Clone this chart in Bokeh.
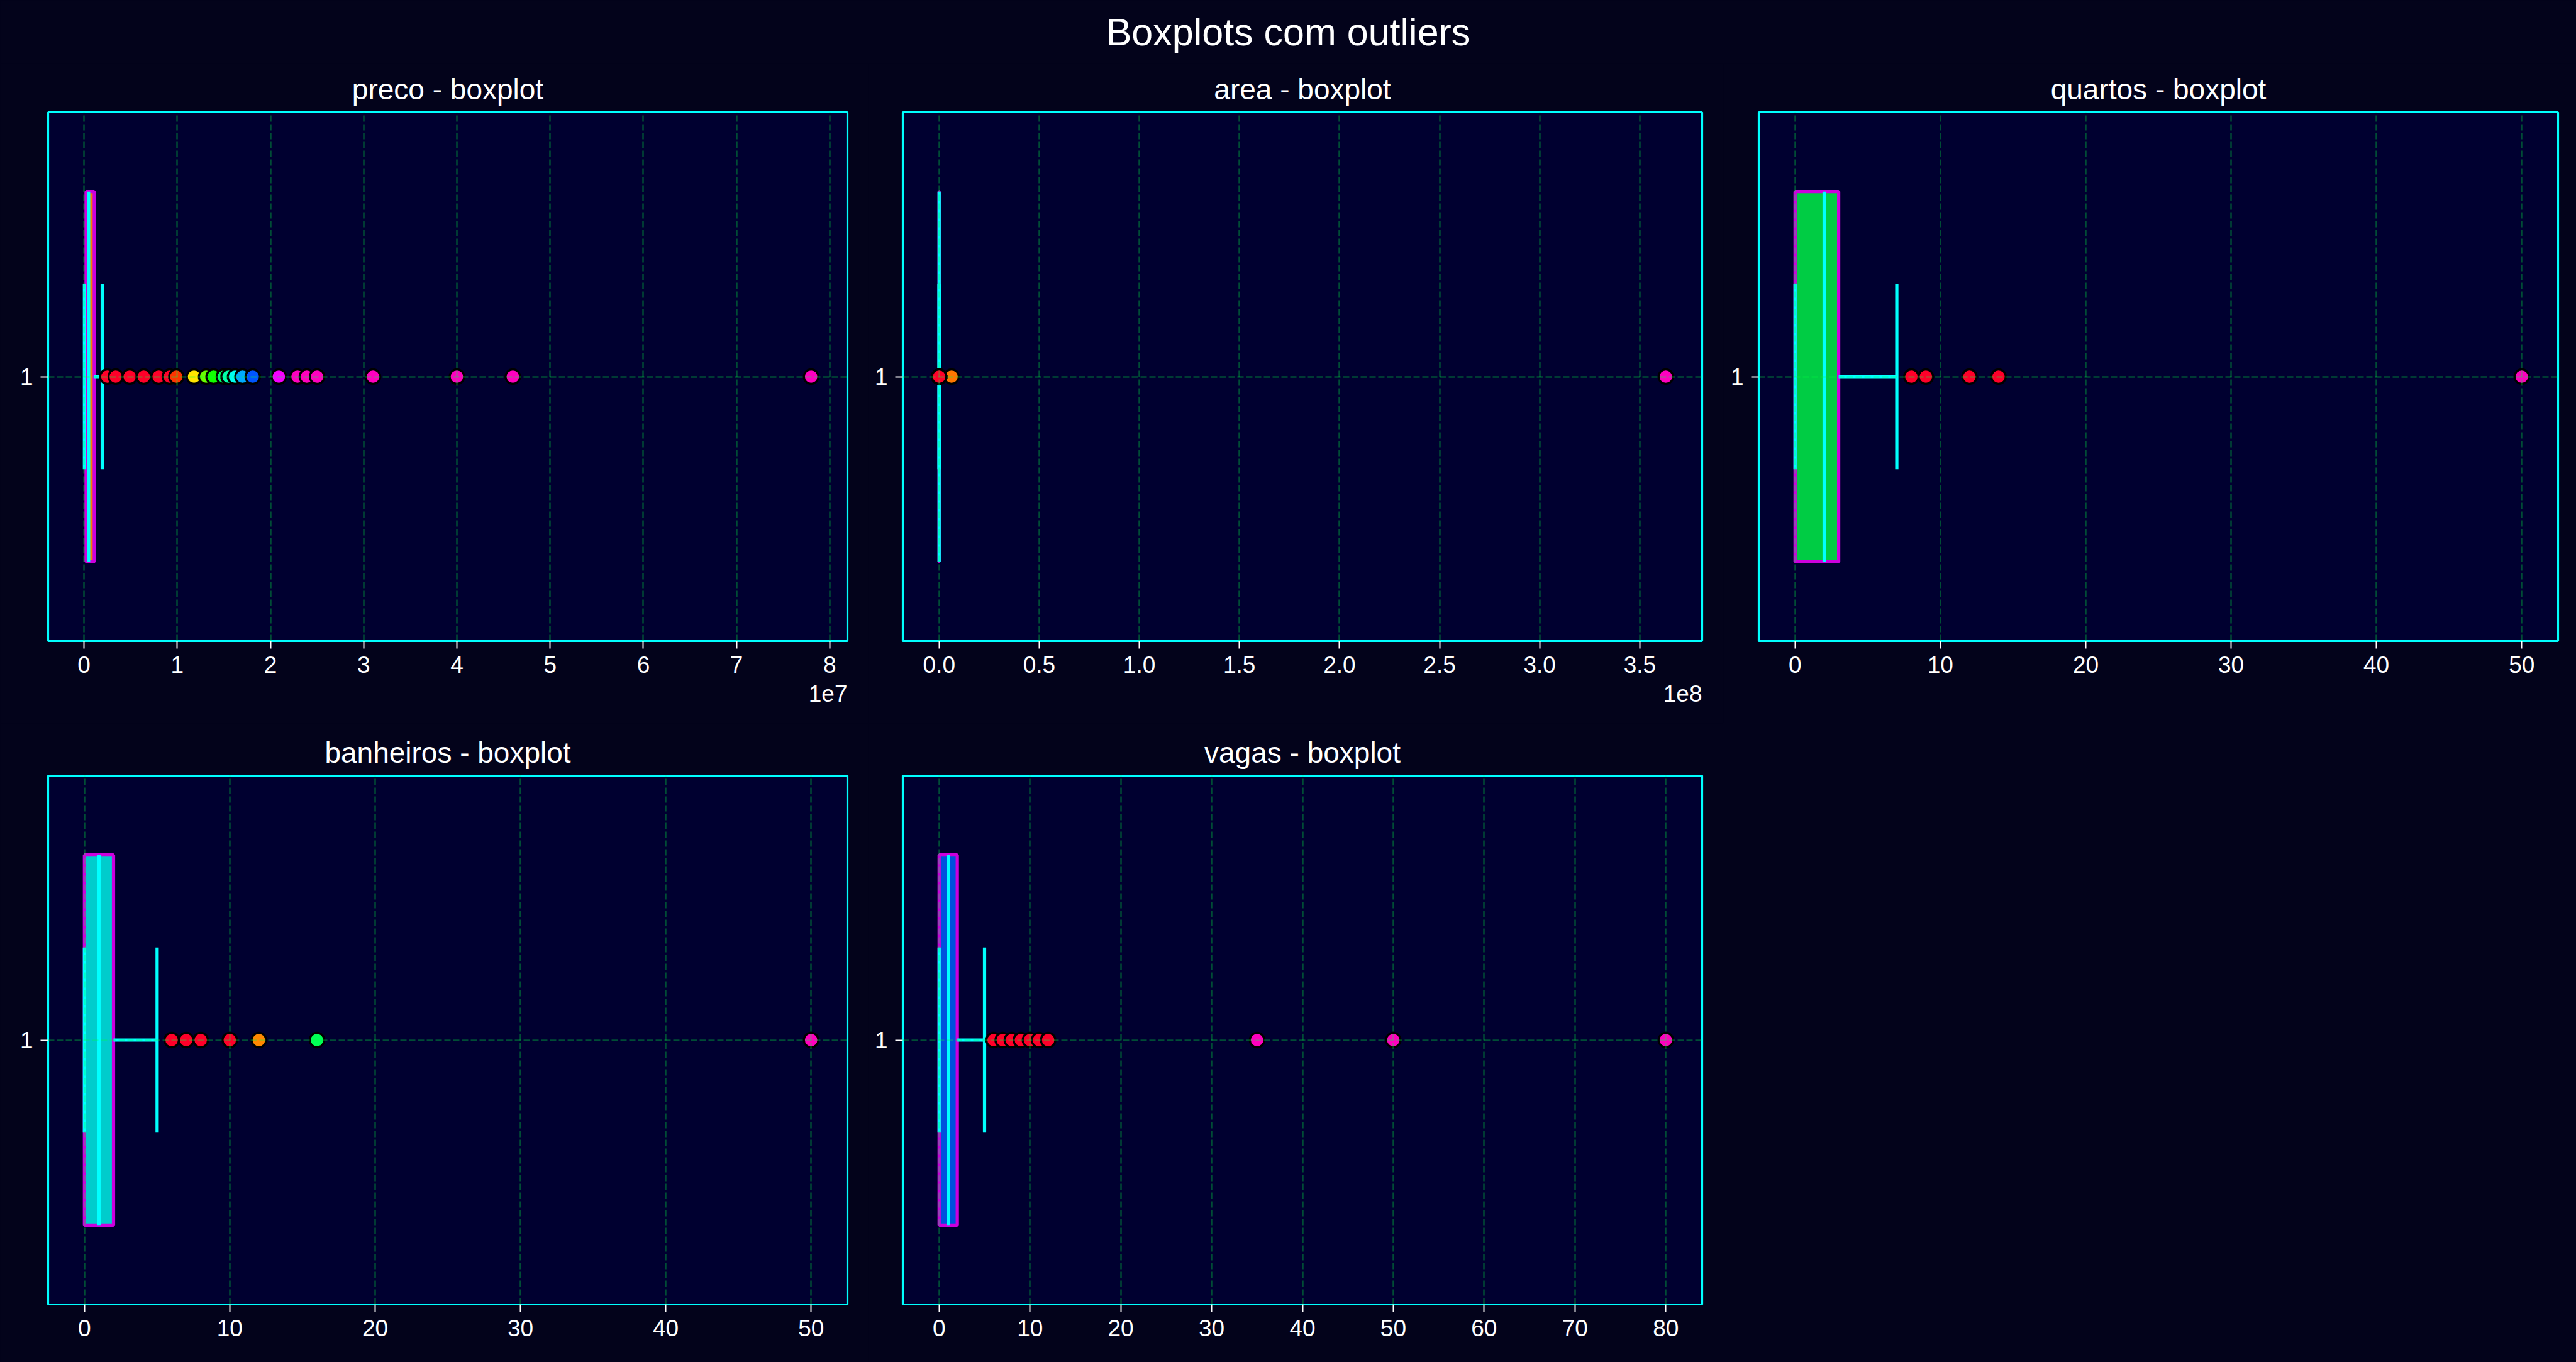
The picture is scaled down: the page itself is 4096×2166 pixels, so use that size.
from bokeh.plotting import figure
from bokeh.models import Range1d, FixedTicker, Title, Spacer
from bokeh.layouts import column, row
from bokeh.embed import file_html
from bokeh.resources import INLINE

# ---------------- data ----------------
names = ["preco", "area", "quartos", "banheiros", "vagas"]
q1 = [2.2e5, 60, 0, 0, 0]
medians = [4.9e5, 90, 2, 1, 1]
q3 = [1.1e6, 160, 3, 2, 2]
whisker_low = [4.5e4, 10, 0, 0, 0]
whisker_high = [1.95e6, 320, 7, 5, 5]
box_colors = ["#FF7A00", "#FFE500", "#00CC44", "#00CCCC", "#0050DD"]

preco_outliers = [2.5e6, 3.4e6, 4.9e6, 6.4e6, 8.0e6, 9.2e6, 9.9e6, 1.18e7, 1.31e7,
                  1.39e7, 1.50e7, 1.55e7, 1.62e7, 1.70e7, 1.81e7, 2.09e7, 2.29e7,
                  2.39e7, 2.50e7, 3.10e7, 4.00e7, 4.60e7, 7.80e7]
preco_colors = ["#FF0029"] * 6 + ["#FF3300", "#FFE500", "#66FF00", "#11FF00", "#00FF66",
                                  "#00FFAA", "#00FFEE", "#00AAFF", "#0055FF", "#F500FF"] + ["#FF00BF"] * 7
area_outliers = [6.2e6, 450, 800, 1500, 4000, 20000, 3.63e8]
area_colors = ["#FF7700", "#FF0029", "#FF0029", "#FF0029", "#FF0029", "#FF0029", "#FF00BF"]
quartos_outliers = [8, 9, 12, 14, 50]
quartos_colors = ["#FF0029"] * 4 + ["#FF00BF"]
banheiros_outliers = [6, 7, 8, 10, 12, 16, 50]
banheiros_colors = ["#FF0029"] * 4 + ["#FF8800", "#00FF55", "#FF00BF"]
vagas_outliers = [6, 7, 8, 9, 10, 11, 12, 35, 50, 80]
vagas_colors = ["#FF0029"] * 7 + ["#FF00BF"] * 3
outliers = [preco_outliers, area_outliers, quartos_outliers, banheiros_outliers, vagas_outliers]
outlier_colors = [preco_colors, area_colors, quartos_colors, banheiros_colors, vagas_colors]

preco_ticks = [0, 1e7, 2e7, 3e7, 4e7, 5e7, 6e7, 7e7, 8e7]
preco_tick_labels = ["0", "1", "2", "3", "4", "5", "6", "7", "8"]
area_ticks = [0, 0.5e8, 1e8, 1.5e8, 2e8, 2.5e8, 3e8, 3.5e8]
area_tick_labels = ["0.0", "0.5", "1.0", "1.5", "2.0", "2.5", "3.0", "3.5"]
quartos_ticks = [0, 10, 20, 30, 40, 50]
banheiros_ticks = [0, 10, 20, 30, 40, 50]
vagas_ticks = [0, 10, 20, 30, 40, 50, 60, 70, 80]
ticks = [preco_ticks, area_ticks, quartos_ticks, banheiros_ticks, vagas_ticks]
tick_labels = [preco_tick_labels, area_tick_labels,
               [str(t) for t in quartos_ticks], [str(t) for t in banheiros_ticks],
               [str(t) for t in vagas_ticks]]
offset_texts = ["1e7", "1e8", "", "", ""]
category_label = "1"

# ---------------- style ----------------
FIG_BG = "#03031b"
PLOT_BG = "#000030"
CYAN = "#00FFFF"
MAGENTA = "#CC00DD"
FONT = "Liberation Sans"
LW = 5.2
TICK_FS = "37px"
BG_STYLE = {"background-color": FIG_BG}


def make_panel(i, width, height, bl, br, bt, bb):
    lo = min(whisker_low[i], min(outliers[i]))
    hi = max(max(outliers[i]), whisker_high[i])
    pad = 0.05 * (hi - lo)
    p = figure(width=width, height=height, output_backend="svg", toolbar_location=None,
               x_range=Range1d(lo - pad, hi + pad), y_range=Range1d(0.5, 1.5),
               min_border_left=bl, min_border_right=br, min_border_top=bt,
               min_border_bottom=bb, title=f"{names[i]} - boxplot", styles=BG_STYLE)
    p.background_fill_color = PLOT_BG
    p.border_fill_color = FIG_BG
    p.outline_line_color = CYAN
    p.outline_line_width = 3.2
    p.title.align = "center"
    p.title.text_color = "white"
    p.title.text_font = FONT
    p.title.text_font_size = "46px"
    p.title.text_font_style = "normal"
    p.title.standoff = 22

    p.xaxis.ticker = FixedTicker(ticks=ticks[i])
    p.xaxis.major_label_overrides = {t: l for t, l in zip(ticks[i], tick_labels[i])}
    p.yaxis.ticker = FixedTicker(ticks=[1])
    p.yaxis.major_label_overrides = {1: category_label}
    for ax in (p.xaxis[0], p.yaxis[0]):
        ax.axis_line_color = None
        ax.major_tick_line_color = "white"
        ax.major_tick_line_width = 2
        ax.major_tick_in = 0
        ax.major_tick_out = 12
        ax.minor_tick_line_color = None
        ax.major_label_text_color = "white"
        ax.major_label_text_font = FONT
        ax.major_label_text_font_size = TICK_FS
        ax.major_label_standoff = 12

    p.grid.grid_line_color = "#00ff41"
    p.grid.grid_line_alpha = 0.3
    p.grid.grid_line_dash = "10 4"
    p.grid.grid_line_width = 2.5
    p.grid.level = "annotation"

    # box
    p.quad(left=[q1[i]], right=[q3[i]], bottom=[1 - 0.35], top=[1 + 0.35],
           fill_color=box_colors[i], line_color=MAGENTA, line_width=LW)
    # whiskers
    p.segment(x0=[q3[i], q1[i]], y0=[1, 1], x1=[whisker_high[i], whisker_low[i]], y1=[1, 1],
              line_color=CYAN, line_width=LW)
    # caps
    p.segment(x0=[whisker_low[i], whisker_high[i]], y0=[1 - 0.175, 1 - 0.175],
              x1=[whisker_low[i], whisker_high[i]], y1=[1 + 0.175, 1 + 0.175],
              line_color=CYAN, line_width=LW)
    # median
    p.segment(x0=[medians[i]], y0=[1 - 0.35], x1=[medians[i]], y1=[1 + 0.35],
              line_color=CYAN, line_width=LW)
    # outliers
    p.scatter(x=outliers[i], y=[1] * len(outliers[i]), size=23,
              fill_color=outlier_colors[i], line_color="black", line_width=3.3)

    if offset_texts[i]:
        off = Title(text=offset_texts[i], align="right", text_color="white",
                    text_font=FONT, text_font_size=TICK_FS, text_font_style="normal",
                    standoff=30, offset=0)
        p.add_layout(off, "below")
    return p


top = figure(width=4096, height=100, output_backend="svg", toolbar_location=None,
             x_range=(0, 1), y_range=(0, 1), min_border=0, styles=BG_STYLE)
top.axis.visible = False
top.grid.visible = False
top.outline_line_color = None
top.background_fill_color = FIG_BG
top.border_fill_color = FIG_BG
top.text(x=[0.5], y=[0.5], text=["Boxplots com outliers"], text_align="center",
         text_baseline="middle", text_color="white", text_font_size="61px",
         text_font={"value": FONT})

widths = [1380, 1360, 1356]
lefts = [76, 55, 56]
rights = [33, 34, 29]

p1 = make_panel(0, widths[0], 1050, lefts[0], rights[0], 78, 131)
p2 = make_panel(1, widths[1], 1050, lefts[1], rights[1], 78, 131)
p3 = make_panel(2, widths[2], 1050, lefts[2], rights[2], 78, 131)
p4 = make_panel(3, widths[0], 1016, lefts[0], rights[0], 83, 92)
p5 = make_panel(4, widths[1], 1016, lefts[1], rights[1], 83, 92)
p6 = Spacer(width=widths[2], height=1016, styles=BG_STYLE)

r1 = row(p1, p2, p3, styles=BG_STYLE)
r2 = row(p4, p5, p6, styles=BG_STYLE)
p = column(top, r1, r2, styles=BG_STYLE)

open("out.html", "w").write(file_html(p, INLINE))
